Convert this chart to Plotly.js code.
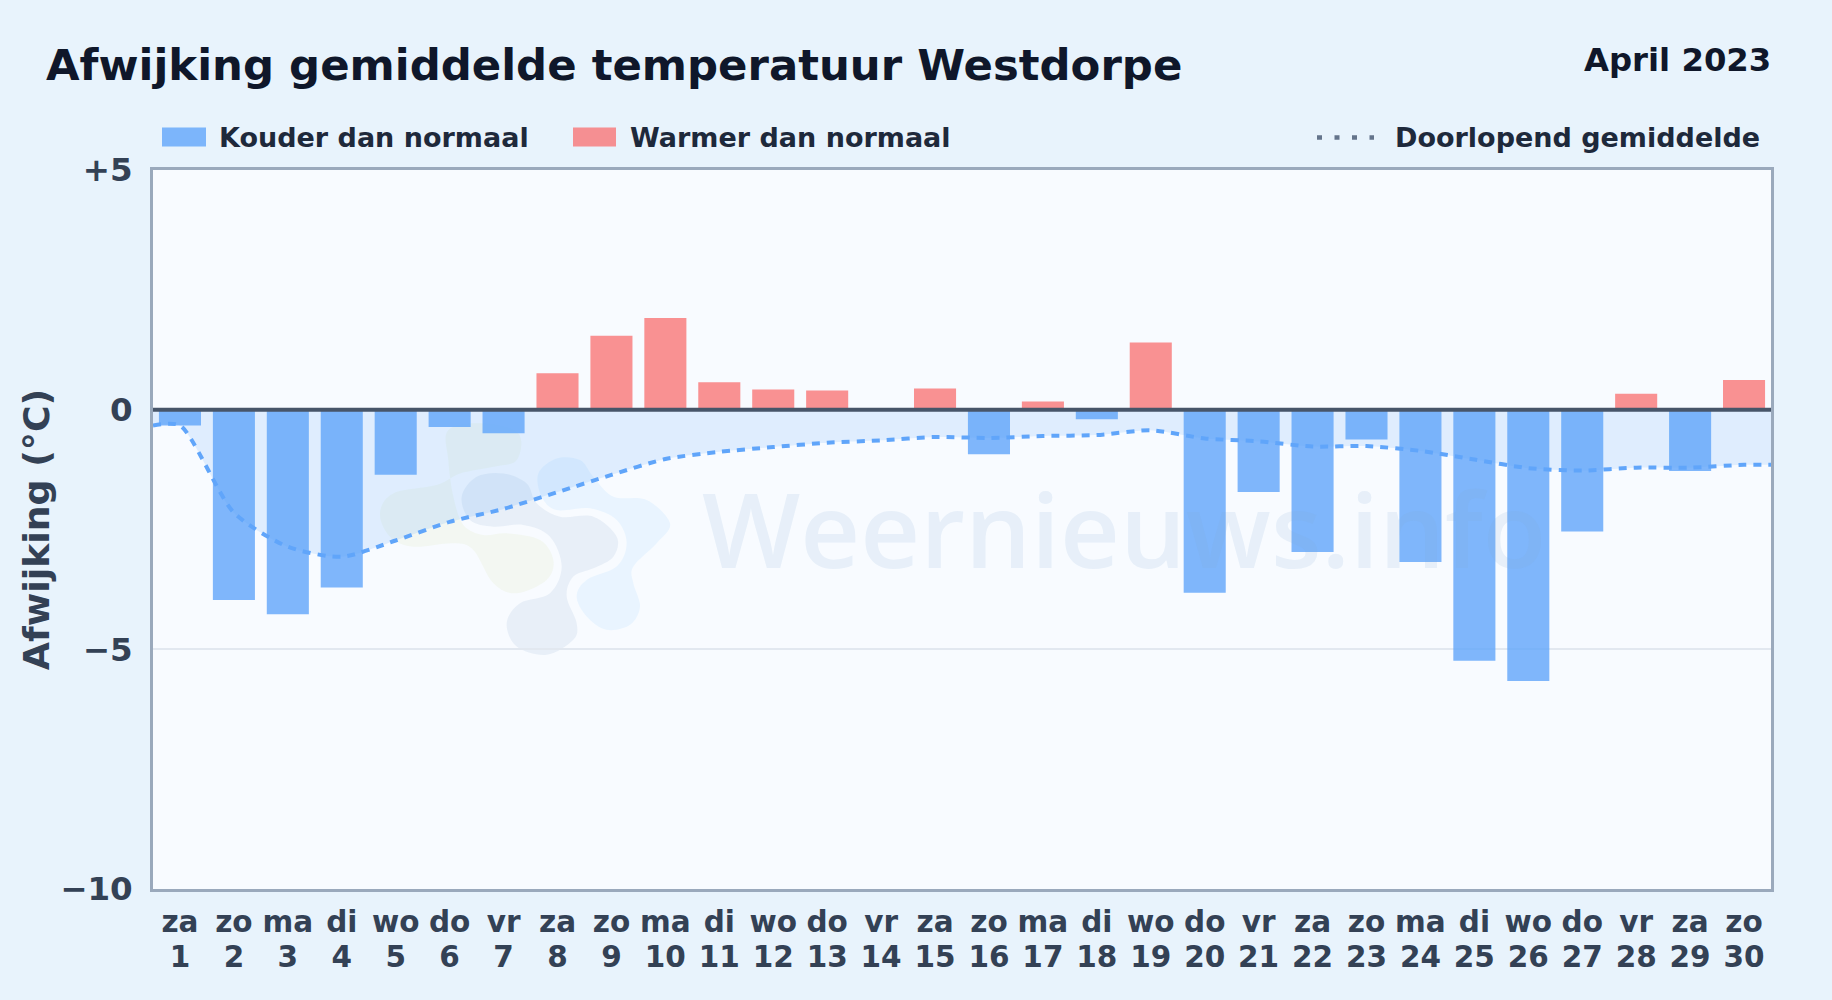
<!DOCTYPE html>
<html>
<head>
<meta charset="utf-8">
<script src="https://cdn.plot.ly/plotly-3.0.1.min.js"></script>
<style>html,body{margin:0;padding:0;background:#e8f3fc;overflow:hidden}#chart{width:1832px;height:1000px}</style>
</head>
<body>
<div id="chart"></div>
<script>
const days = [1,2,3,4,5,6,7,8,9,10,11,12,13,14,15,16,17,18,19,20,21,22,23,24,25,26,27,28,29,30];
const weekdays = ["za","zo","ma","di","wo","do","vr","za","zo","ma","di","wo","do","vr","za","zo","ma","di","wo","do","vr","za","zo","ma","di","wo","do","vr","za","zo"];
const deviation = [-0.33,-3.97,-4.27,-3.71,-1.36,-0.36,-0.49,0.76,1.54,1.91,0.57,0.42,0.40,0,0.44,-0.93,0.17,-0.20,1.40,-3.82,-1.72,-2.97,-0.62,-3.18,-5.24,-5.66,-2.54,0.33,-1.28,0.62];
const runningMean = [-0.33,-2.15,-2.86,-3.07,-2.73,-2.34,-2.07,-1.72,-1.36,-1.03,-0.88,-0.78,-0.69,-0.64,-0.57,-0.59,-0.55,-0.53,-0.43,-0.60,-0.66,-0.77,-0.76,-0.86,-1.04,-1.22,-1.27,-1.21,-1.21,-1.15];
const yTickValues = [5,0,-5,-10];
const yTickLabels = ["+5","0","−5","−10"];
const seriesNames = {cold:"Kouder dan normaal", warm:"Warmer dan normaal", mean:"Doorlopend gemiddelde"};
const FONT = "DejaVu Sans";

// pixel -> paper helpers for decorations (plot area spans L..R x T..B)
const L=153,R=1771,T=169.5,B=889.5;
const px = x => (x-L)/(R-L);
const py = y => (B-y)/(B-T);

function smoothPath(pts, ox, oy, k){
  const P = pts.map(p=>[ox+p[0]/k, oy+p[1]/k]);
  const n=P.length; const f=([x,y])=>px(x).toFixed(5)+','+py(y).toFixed(5);
  let d='M'+f(P[0]);
  for(let i=0;i<n;i++){
    const p0=P[(i-1+n)%n],p1=P[i],p2=P[(i+1)%n],p3=P[(i+2)%n];
    const c1=[p1[0]+(p2[0]-p0[0])/6,p1[1]+(p2[1]-p0[1])/6];
    const c2=[p2[0]-(p3[0]-p1[0])/6,p2[1]-(p3[1]-p1[1])/6];
    d+=' C'+f(c1)+' '+f(c2)+' '+f(p2);
  }
  return d+' Z';
}
const blobGreen=[[265,60],[370,40],[475,70],[470,150],[400,170],[300,190],[230,225],[100,250],[60,310],[90,380],[160,410],[280,400],[340,420],[400,520],[470,550],[560,510],[580,450],[540,390],[440,370],[370,375],[310,345],[280,260],[265,150]];
const blobGrey=[[305,260],[350,200],[430,190],[500,220],[530,280],[600,320],[700,320],[770,380],[760,440],[700,475],[640,500],[620,560],[650,640],[640,690],[560,735],[470,710],[440,640],[480,580],[570,550],[605,470],[570,380],[490,345],[400,350],[330,330]];
const blobBlue=[[535,190],[590,145],[660,150],[700,200],[760,260],[860,270],[930,340],[890,400],[820,470],[820,520],[840,590],[810,645],[740,660],[680,620],[650,560],[680,510],[770,470],[800,400],[770,330],[690,295],[590,300],[545,260]];
const blob=(pts,color)=>({type:'path',xref:'paper',yref:'paper',layer:'below',path:smoothPath(pts,360,410,3),fillcolor:color,line:{width:0}});

const traces = [
  {type:'bar',name:seriesNames.cold,x:days,y:deviation.map(v=>v<0?v:null),width:0.78,marker:{color:'rgba(96,165,250,0.8)',line:{width:0}},showlegend:false,hoverinfo:'x+y'},
  {type:'bar',name:seriesNames.warm,x:days,y:deviation.map(v=>v>0?v:null),width:0.78,marker:{color:'rgba(248,113,113,0.77)',line:{width:0}},showlegend:false,hoverinfo:'x+y'},
  {type:'scatter',mode:'lines',name:seriesNames.mean,
   x:[0.5].concat(days,[30.5]),
   y:[runningMean[0]].concat(runningMean,[runningMean[29]]),
   line:{color:'#60a5fa',width:4,dash:'8px,7px',shape:'spline',smoothing:0.7},
   fill:'tozeroy',fillcolor:'rgba(96,165,250,0.16)',showlegend:false,hoverinfo:'x+y'}
];

const ann=(text,x,y,size,color,anchor,extra)=>Object.assign({xref:'paper',yref:'paper',x:px(x),y:py(y),text,showarrow:false,xanchor:anchor,yanchor:'middle',font:{family:FONT,size,color,weight:700}},extra||{});

const layout = {
  width:1832,height:1000,
  margin:{l:L,r:1832-R,t:T,b:1000-B,pad:0},
  paper_bgcolor:'#e8f3fc',plot_bgcolor:'#f8fbff',
  barmode:'overlay',bargap:0.22,
  showlegend:false,
  title:{text:'Afwijking gemiddelde temperatuur Westdorpe',x:46/1832,xanchor:'left',xref:'container',y:1-65/1000,yanchor:'middle',yref:'container',font:{family:FONT,size:43.4,color:'#0f172a',weight:700}},
  xaxis:{range:[0.5,30.5],tickmode:'array',tickvals:days,ticktext:days.map((d,i)=>weekdays[i]+'<br>'+d),tickangle:0,
    tickfont:{family:FONT,size:29.5,color:'#334155',weight:700},showgrid:false,zeroline:false,
    showline:true,mirror:true,linecolor:'#9aa9bc',linewidth:2.6,ticks:'outside',ticklen:5,tickcolor:'rgba(0,0,0,0)',fixedrange:true},
  yaxis:{range:[-10,5],tickmode:'array',tickvals:yTickValues,ticktext:yTickLabels,
    tickfont:{family:FONT,size:32.5,color:'#334155',weight:700},showgrid:true,gridcolor:'#e2e8f0',gridwidth:2,zeroline:false,
    showline:true,mirror:true,linecolor:'#9aa9bc',linewidth:2.6,ticks:'outside',ticklen:11,tickcolor:'rgba(0,0,0,0)',fixedrange:true,
    title:{text:'Afwijking (°C)',standoff:0,font:{family:FONT,size:36.3,color:'#334155',weight:700}}},
  shapes:[
    blob(blobGreen,'rgba(215,228,165,0.15)'),
    blob(blobGrey,'rgba(110,150,195,0.11)'),
    blob(blobBlue,'rgba(147,210,253,0.15)'),
    {type:'line',xref:'paper',yref:'y',x0:0,x1:1,y0:0,y1:0,layer:'above',line:{color:'#475569',width:4}},
    {type:'rect',xref:'paper',yref:'paper',x0:px(162),x1:px(206),y0:py(127),y1:py(146),line:{width:0},fillcolor:'rgba(96,165,250,0.8)'},
    {type:'rect',xref:'paper',yref:'paper',x0:px(573),x1:px(616),y0:py(127),y1:py(146),line:{width:0},fillcolor:'rgba(248,113,113,0.77)'},
    {type:'line',xref:'paper',yref:'paper',x0:px(1317),x1:px(1374),y0:py(137),y1:py(137),line:{color:'#64748b',width:4.5,dash:'5px,12.5px'}}
  ],
  annotations:[
    {xref:'paper',yref:'paper',x:px(700),y:py(527),text:'Weernieuws.info',showarrow:false,xanchor:'left',yanchor:'middle',font:{family:'Open Sans',size:104,color:'rgba(130,170,210,0.14)',weight:600}},
    ann('April 2023',1773,59,32.3,'#0f172a','right'),
    ann(seriesNames.cold,217,137,27,'#1e293b','left'),
    ann(seriesNames.warm,628,137,27,'#1e293b','left'),
    ann(seriesNames.mean,1393,137,27,'#1e293b','left')
  ]
};
Plotly.newPlot('chart',traces,layout,{displayModeBar:false}).then(()=>{
  // the reference sets its two-line day labels a little tighter than Plotly's 1.3em
  document.querySelectorAll('.xtick text tspan.line:nth-child(2)').forEach(t=>t.setAttribute('dy','1.17em'));
});
</script>
</body>
</html>
